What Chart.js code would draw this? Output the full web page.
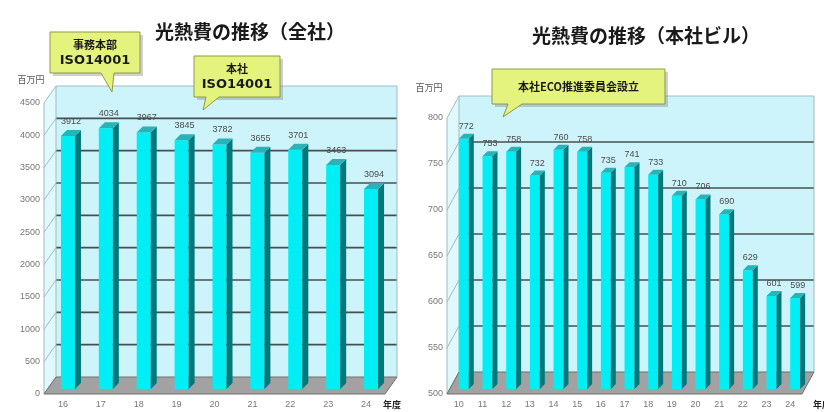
<!DOCTYPE html>
<html>
<head>
<meta charset="utf-8">
<script src="https://cdn.jsdelivr.net/npm/chart.js@4.4.1/dist/chart.umd.min.js"></script>
<style>
  body { margin: 0; background: #fff; width: 824px; height: 412px; overflow: hidden; position: relative; }
  .box { position: absolute; top: 0; width: 412px; height: 412px; }
</style>
</head>
<body>
<div class="box" style="left:0"><canvas id="zensha" width="412" height="412"></canvas></div>
<div class="box" style="left:412px"><canvas id="honsha" width="412" height="412"></canvas></div>
<script>
// 光熱費の推移（全社） 百万円
const zenshaYears = ['16', '17', '18', '19', '20', '21', '22', '23', '24']
const zenshaCost = [3912, 4034, 3967, 3845, 3782, 3655, 3701, 3463, 3094]
// 光熱費の推移（本社ビル） 百万円
const honshaYears = ['10', '11', '12', '13', '14', '15', '16', '17', '18', '19', '20', '21', '22', '23', '24']
const honshaCost = [772, 753, 758, 732, 760, 758, 735, 741, 733, 710, 706, 690, 629, 601, 599]

const JP = '"Noto Sans CJK JP", "Noto Sans", sans-serif'

function poly(ctx, pts) {
    ctx.beginPath()
    pts.forEach(([x, y], i) => (i ? ctx.lineTo(x, y) : ctx.moveTo(x, y)))
    ctx.closePath()
}

function line(ctx, x1, y1, x2, y2) {
    ctx.beginPath()
    ctx.moveTo(x1, y1)
    ctx.lineTo(x2, y2)
    ctx.stroke()
}

function callout(ctx, c) {
    const { x, y, w, h } = c
    ctx.save()
    // shadow
    ctx.fillStyle = 'rgba(120,120,120,0.35)'
    ctx.fillRect(x + 3, y + 3, w, h)
    ctx.fillStyle = '#e4f27e'
    ctx.strokeStyle = '#8c9a48'
    ctx.lineWidth = 1
    poly(ctx, [[x, y], [x + w, y], [x + w, y + h], [c.b2, y + h], c.tip, [c.b1, y + h], [x, y + h]])
    ctx.fill()
    ctx.stroke()
    ctx.fillStyle = '#1a1a1a'
    ctx.textAlign = 'center'
    ctx.textBaseline = 'middle'
    const n = c.lines.length
    c.lines.forEach((t, i) => {
        ctx.font = /^[A-Z0-9]+$/.test(t) ? 'bold 13px "DejaVu Sans"' : 'bold ' + c.size + 'px ' + JP
        ctx.fillText(t, x + w / 2, y + h / 2 + (i - (n - 1) / 2) * 16)
    })
    ctx.restore()
}

// pseudo 3D walls, floor and bar depth
const deco = {
    id: 'deco',
    beforeDatasetsDraw(chart, args, o) {
        const { ctx, chartArea: a, scales: { y } } = chart
        const { dx, dy } = o
        ctx.save()
        ctx.fillStyle = '#cdf4fa'
        ctx.fillRect(a.left + dx, a.top + dy, a.width, a.height)
        ctx.fillStyle = '#dff9fc'
        poly(ctx, [[a.left, a.top], [a.left + dx, a.top + dy], [a.left + dx, a.bottom + dy], [a.left, a.bottom]])
        ctx.fill()
        y.ticks.forEach(t => {
            const py = y.getPixelForValue(t.value)
            ctx.strokeStyle = '#9fbcc0'
            ctx.lineWidth = 1
            line(ctx, a.left, py, a.left + dx, py + dy)
            if (t.value === y.min) return
            if (t.value === y.max) {
                line(ctx, a.left + dx, py + dy, a.right + dx, py + dy)
                return
            }
            ctx.strokeStyle = '#44504f'
            ctx.lineWidth = 1.6
            line(ctx, a.left + dx, py + dy, a.right + dx, py + dy)
        })
        ctx.strokeStyle = '#9fbcc0'
        ctx.lineWidth = 1
        line(ctx, a.right + dx, a.top + dy, a.right + dx, a.bottom + dy)
        line(ctx, a.left + dx, a.top + dy, a.left + dx, a.bottom + dy)
        line(ctx, a.left, a.top, a.left, a.bottom)
        // floor
        ctx.fillStyle = '#a2a2a2'
        poly(ctx, [[a.left, a.bottom], [a.right, a.bottom], [a.right + dx, a.bottom + dy], [a.left + dx, a.bottom + dy]])
        ctx.fill()
        ctx.strokeStyle = '#6e6e6e'
        ctx.stroke()
        ctx.restore()
        ctx.save()
        ctx.translate(o.shift, -o.shift)
    },
    afterDatasetsDraw(chart, args, o) {
        const { ctx, chartArea: a, scales: { x } } = chart
        const d = o.depth
        const values = chart.data.datasets[0].data
        chart.getDatasetMeta(0).data.forEach((b, i) => {
            const l = b.x - b.width / 2
            const r = b.x + b.width / 2
            ctx.fillStyle = '#00787c'
            poly(ctx, [[r, b.y], [r + d, b.y - d], [r + d, b.base - d], [r, b.base]])
            ctx.fill()
            ctx.fillStyle = '#26b4b8'
            poly(ctx, [[l, b.y], [l + d, b.y - d], [r + d, b.y - d], [r, b.y]])
            ctx.fill()
            ctx.fillStyle = '#4a4a4a'
            ctx.font = '9px "Liberation Sans"'
            ctx.textAlign = 'center'
            ctx.textBaseline = 'bottom'
            ctx.fillText(values[i], b.x + d / 2, b.y - d - o.labelGap)
        })
        ctx.restore()

        ctx.save()
        // category labels along the x scale
        ctx.fillStyle = '#777'
        ctx.font = '9px "Liberation Sans"'
        ctx.textAlign = 'center'
        ctx.textBaseline = 'middle'
        x.ticks.forEach((t, i) => {
            ctx.fillText(x.getLabelForValue(t.value), x.getPixelForTick(i), a.bottom + o.xLabelY)
        })
        ctx.fillStyle = '#1a1a1a'
        ctx.font = 'bold 19px ' + JP
        ctx.fillText(o.title, o.titleX, o.titleY)
        ctx.font = '9px ' + JP
        ctx.fillStyle = '#555'
        ctx.fillText('百万円', o.unitX, o.unitY)
        ctx.font = 'bold 9px ' + JP
        ctx.fillStyle = '#222'
        ctx.textAlign = 'left'
        ctx.fillText('年度', o.nendoX, a.bottom + o.xLabelY)
        ctx.restore()
        o.callouts.forEach(c => callout(ctx, c))
    }
}

function makeChart(id, labels, values, o) {
    return new Chart(document.getElementById(id), {
        type: 'bar',
        data: {
            labels,
            datasets: [{
                data: values,
                base: o.min,
                backgroundColor: '#00eef4',
                borderWidth: 0,
                barPercentage: o.barPct,
                categoryPercentage: 1,
                clip: false
            }]
        },
        options: {
            responsive: false,
            animation: false,
            devicePixelRatio: 1,
            layout: { padding: o.pad },
            plugins: {
                legend: { display: false },
                tooltip: { enabled: false },
                deco: o
            },
            scales: {
                x: {
                    grid: { display: false, drawTicks: false },
                    border: { display: false },
                    ticks: { display: false, autoSkip: false },
                    afterFit: s => { s.height = o.xh }
                },
                y: {
                    min: o.min,
                    max: o.max,
                    beginAtZero: false,
                    grid: { display: false, drawTicks: false },
                    border: { display: false },
                    ticks: { stepSize: o.step, color: '#777', font: { size: 9, family: 'Liberation Sans' }, padding: 4, callback: v => String(v) },
                    afterFit: s => { s.width = o.yw }
                }
            }
        },
        plugins: [deco]
    })
}

makeChart('zensha', zenshaYears, zenshaCost, {
    min: 0, max: 4500, step: 500,
    pad: { top: 103, bottom: 0, left: 0, right: 27 },
    yw: 44, xh: 18, xLabelY: 11,
    barPct: 0.37,
    dx: 12, dy: -17, shift: 5, depth: 6, labelGap: 4,
    title: '光熱費の推移（全社）', titleX: 250, titleY: 32,
    unitX: 31, unitY: 80, nendoX: 383,
    callouts: [
        { x: 50, y: 32, w: 90, h: 41, lines: ['事務本部', 'ISO14001'], size: 11, b1: 101, b2: 114, tip: [112, 92] },
        { x: 194, y: 56, w: 86, h: 41, lines: ['本社', 'ISO14001'], size: 11, b1: 206, b2: 219, tip: [203, 110] }
    ]
})

makeChart('honsha', honshaYears, honshaCost, {
    min: 500, max: 800, step: 50,
    pad: { top: 118, bottom: 0, left: 0, right: 22 },
    yw: 35, xh: 18, xLabelY: 11,
    barPct: 0.42,
    dx: 12, dy: -22, shift: 5, depth: 5, labelGap: 3,
    title: '光熱費の推移（本社ビル）', titleX: 234, titleY: 36,
    unitX: 17, unitY: 88, nendoX: 401,
    callouts: [
        { x: 80, y: 69, w: 173, h: 35, lines: ['本社ECO推進委員会設立'], size: 11, b1: 96, b2: 110, tip: [91, 117] }
    ]
})
</script>
</body>
</html>
